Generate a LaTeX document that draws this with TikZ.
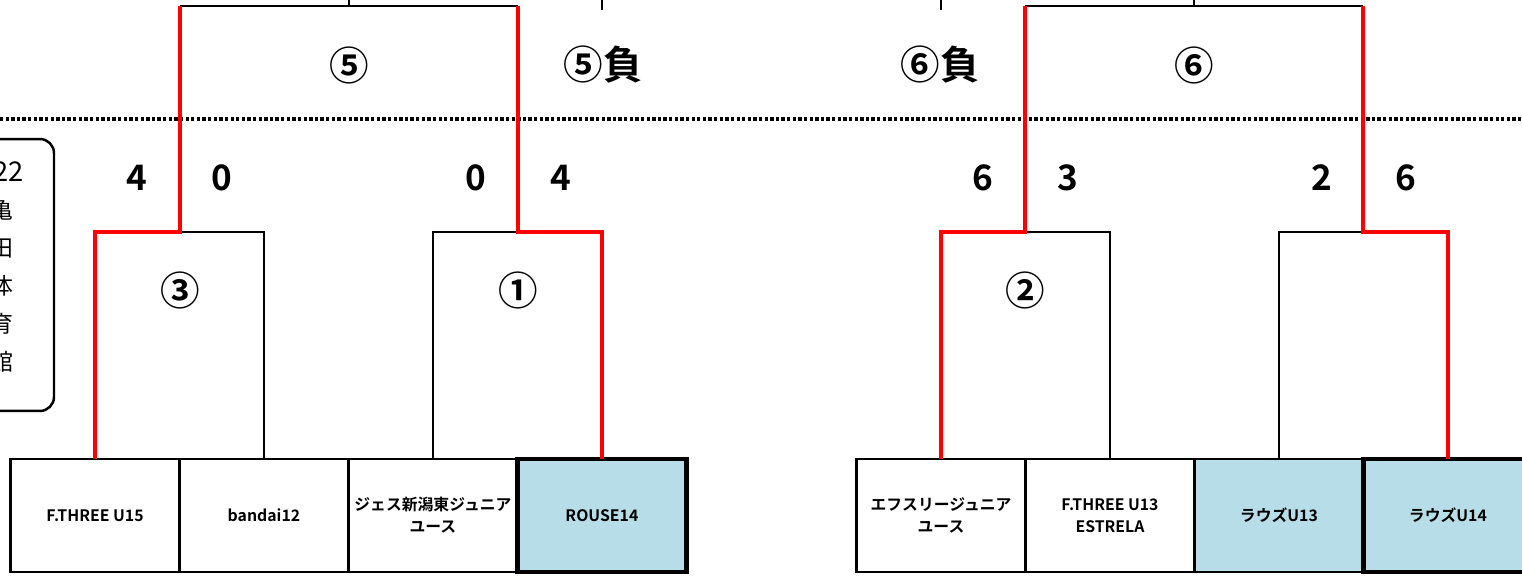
\documentclass[tikz,border=0pt]{standalone}
\usepackage{fontspec}
\setmainfont{Noto Sans CJK JP}[BoldFont={Noto Sans CJK JP Bold}]
\usetikzlibrary{positioning,calc}
\definecolor{rouse}{HTML}{B7DDE8}

\begin{document}
\begin{tikzpicture}[x=0.02cm, y=-0.02cm, node distance=0pt,
  team/.style={draw, line width=1.6pt, minimum width=3.38cm, minimum height=2.26cm, outer sep=0pt, inner sep=1pt, align=center, font=\bfseries\fontsize{9}{12.5}\selectfont},
  seed/.style={team, fill=rouse},
  topseed/.style={seed, line width=2.8pt},
  line/.style={line width=1.6pt},
  win/.style={line width=2.3pt, red},
  score/.style={font=\bfseries\fontsize{20}{20}\selectfont},
  circ/.style={font=\bfseries\fontsize{22.5}{22.5}\selectfont}]
	\clip (0,0) rectangle (1522,575);
	\draw[line width=2pt, dash pattern=on 1.9pt off 1.3pt] (0,119) -- (1522,119);

	\node[draw, line width=1.4pt, rounded corners=8pt, minimum width=1.68cm, minimum height=5.44cm] (venue) at (12,275) {};
	\node[anchor=east, font=\fontsize{15.5}{15.5}\selectfont] (date) at (30,172) {22};
	\node[align=center, font=\fontsize{13}{21.6}\selectfont] (hall) at (2,286) {亀\\田\\体\\育\\館};

	\node[team] (t1) at (95,515.5) {F.THREE U15};
	\node[team] (t2) [right=of t1] {bandai12};
	\node[team] (t3) [right=of t2] {ジェス新潟東ジュニア\\ユース};
	\node[topseed] (t4) [right=of t3] {ROUSE14};

	\node[team] (t5) at (941,515.5) {エフスリージュニア\\ユース};
	\node[team] (t6) [right=of t5] {F.THREE U13\\ESTRELA};
	\node[seed] (t7) [right=of t6] {ラウズU13};
	\node[topseed] (t8) [right=of t7] {ラウズU14};

	\coordinate (m3) at (180,232);
	\coordinate (m1) at (518,232);
	\coordinate (m2) at (1025,232);
	\coordinate (m4) at (1363,232);
	\coordinate (m5l) at (180,6);
	\coordinate (m5r) at (518,6);
	\coordinate (m6l) at (1025,6);
	\coordinate (m6r) at (1363,6);
	\coordinate (l5) at (602,10);
	\coordinate (l6) at (941,10);

	\draw[line] (t2.north) |- (m3);
	\draw[line] (t3.north) |- (m1);
	\draw[line] (t6.north) |- (m2);
	\draw[line] (t7.north) |- (m4);
	\draw[line] (m5l) -- (m5r);
	\draw[line] (m6l) -- (m6r);
	\draw[line] ($(m5l)!.5!(m5r)$) -- ++(0,-10);
	\draw[line] ($(m6l)!.5!(m6r)$) -- ++(0,-10);
	\draw[line] (l5) -- ++(0,-15);
	\draw[line] (l6) -- ++(0,-15);

	\draw[win] (t1.north) |- (m3) -- (m5l);
	\draw[win] (t4.north) |- (m1) -- (m5r);
	\draw[win] (t5.north) |- (m2) -- (m6l);
	\draw[win] (t8.north) |- (m4) -- (m6r);

	\node[circ] (c5) at (349,65) {⑤};
	\node[circ] (c5l) at (603,65) {⑤負};
	\node[circ] (c6) at (1194,65) {⑥};
	\node[circ] (c6l) at (940,65) {⑥負};
	\node[circ] (c3) at (180,290) {③};
	\node[circ] (c1) at (518,290) {①};
	\node[circ] (c2) at (1025,290) {②};

	\node[score] (s1) at (137,178) {4};
	\node[score] (s2) at (222,178) {0};
	\node[score] (s3) at (476,178) {0};
	\node[score] (s4) at (561,178) {4};
	\node[score] (s5) at (983,178) {6};
	\node[score] (s6) at (1068,178) {3};
	\node[score] (s7) at (1322,178) {2};
	\node[score] (s8) at (1406,178) {6};
\end{tikzpicture}
\end{document}
